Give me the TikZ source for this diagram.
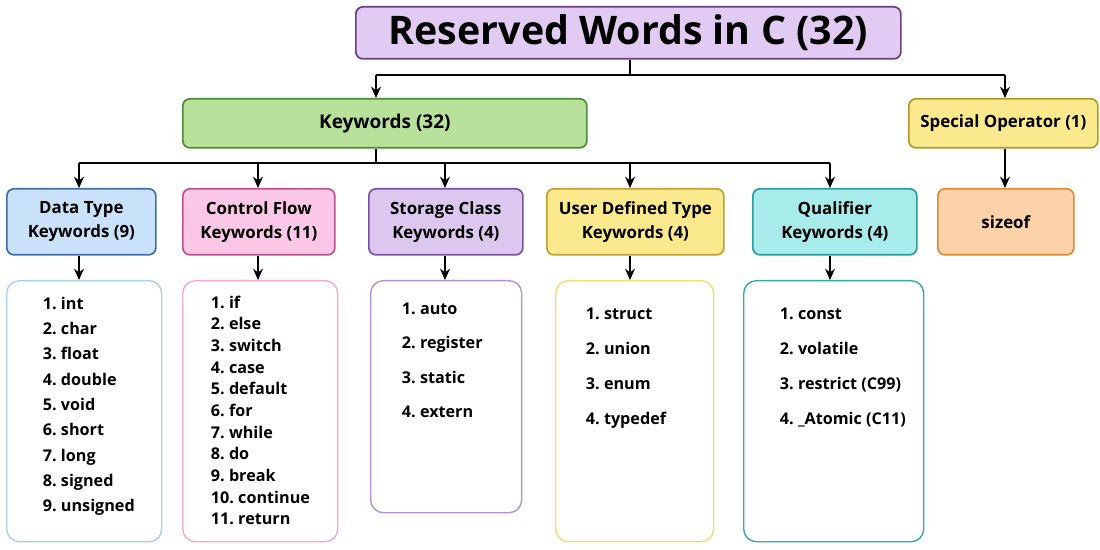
\documentclass[tikz,border=0pt]{standalone}
\usepackage{fontspec}
\setmainfont{Open Sans}
\usetikzlibrary{arrows.meta}
\newcommand{\pxu}{0.025cm}
\definecolor{ttlfill}{HTML}{E2CBF2}\definecolor{ttldraw}{HTML}{6A3D80}
\definecolor{kwfill}{HTML}{B8E29B}\definecolor{kwdraw}{HTML}{4E8A35}
\definecolor{spfill}{HTML}{FBE98E}\definecolor{spdraw}{HTML}{B09A30}
\definecolor{orfill}{HTML}{FCD3A8}\definecolor{ordraw}{HTML}{E08A35}
\definecolor{blfill}{HTML}{C9E2FA}\definecolor{bldraw}{HTML}{3E6FA8}
\definecolor{pkfill}{HTML}{FAC8E6}\definecolor{pkdraw}{HTML}{C0508F}
\definecolor{pufill}{HTML}{DCC8EE}\definecolor{pudraw}{HTML}{7B52A0}
\definecolor{yefill}{HTML}{FBE98E}\definecolor{yedraw}{HTML}{C0A030}
\definecolor{cyfill}{HTML}{A8EBEB}\definecolor{cydraw}{HTML}{2E9A9A}
\definecolor{blline}{HTML}{A9CFEE}\definecolor{pkline}{HTML}{F2A8CF}
\definecolor{puline}{HTML}{B392D3}\definecolor{yeline}{HTML}{F0DC70}
\definecolor{cyline}{HTML}{3AA6A6}
\begin{document}
\begin{tikzpicture}[x=0.025cm, y=-0.025cm,
  box/.style 2 args = {draw, line width=1.2pt, rounded corners=5pt, anchor=north west, inner sep=0pt, align=center,
    minimum width={#1*\pxu}, minimum height={#2*\pxu}, font=\bfseries\fontsize{12}{17}\selectfont},
  list/.style 2 args = {draw, line width=1pt, rounded corners=9pt, fill=white, anchor=north west, inner sep=0pt,
    minimum width={#1*\pxu}, minimum height={#2*\pxu}},
  items/.style = {anchor=north west, align=left, font=\bfseries\fontsize{11.5}{#1}\selectfont},
  arr/.style = {line width=1.4pt, -{Stealth[length=8pt,width=7pt]}},
  ln/.style = {line width=1.4pt}]
  \useasboundingbox (0,0) rectangle (1100,550);
  % top levels
  \node[box={545}{52}, fill=ttlfill, draw=ttldraw, font=\bfseries\fontsize{28}{32}\selectfont] (T) at (355,6) {Reserved Words in C (32)};
  \node[box={404}{49}, fill=kwfill, draw=kwdraw, font=\bfseries\fontsize{13.5}{17}\selectfont] (K) at (182,98) {Keywords (32)};
  \node[box={189}{49}, fill=spfill, draw=spdraw] (S) at (908,98) {Special Operator (1)};
  \node[box={136}{66}, fill=orfill, draw=ordraw] (Z) at (937,188) {sizeof};
  % categories
  \node[box={149}{66}, fill=blfill, draw=bldraw] (C1) at (6,188) {Data Type\\Keywords (9)};
  \node[box={152}{66}, fill=pkfill, draw=pkdraw] (C2) at (182,188) {Control Flow\\Keywords (11)};
  \node[box={154}{66}, fill=pufill, draw=pudraw] (C3) at (368,188) {Storage Class\\Keywords (4)};
  \node[box={177}{66}, fill=yefill, draw=yedraw] (C4) at (546,188) {User Defined Type\\Keywords (4)};
  \node[box={164}{66}, fill=cyfill, draw=cydraw] (C5) at (752,188) {Qualifier\\Keywords (4)};
  % lists
  \node[list={155}{261}, draw=blline] (L1) at (6,280) {};
  \node[list={155}{261}, draw=pkline] (L2) at (182,280) {};
  \node[list={151}{232}, draw=puline] (L3) at (370,280) {};
  \node[list={158}{261}, draw=yeline] (L4) at (555,280) {};
  \node[list={180}{261}, draw=cyline] (L5) at (743,280) {};
  \node[items=18] (I1) at (38,292) {1.\ int\\2.\ char\\3.\ float\\4.\ double\\5.\ void\\6.\ short\\7.\ long\\8.\ signed\\9.\ unsigned};
  \node[items=15.4] (I2) at (206,291) {1.\ if\\2.\ else\\3.\ switch\\4.\ case\\5.\ default\\6.\ for\\7.\ while\\8.\ do\\9.\ break\\10.\ continue\\11.\ return};
  \node[items=24.5] (I3) at (397,298) {1.\ auto\\2.\ register\\3.\ static\\4.\ extern};
  \node[items=25] (I4) at (581,303) {1.\ struct\\2.\ union\\3.\ enum\\4.\ typedef};
  \node[items=25] (I5) at (775,303) {1.\ const\\2.\ volatile\\3.\ restrict (C99)\\4.\ \_Atomic (C11)};
  % connectors
  \coordinate (t0) at (630,75); \coordinate (t1) at (376,75); \coordinate (t2) at (1005,75);
  \draw[ln] (T.south -| t0) -- (t0);
  \draw[ln] (t1) -- (t2);
  \draw[arr] (t1) -- (K.north -| t1);
  \draw[arr] (t2) -- (S.north -| t2);
  \draw[arr] (S.south -| t2) -- (Z.north -| t2);
  \coordinate (k0) at (376,163); \coordinate (ka) at (79,163); \coordinate (kb) at (830,163);
  \draw[ln] (K.south -| k0) -- (k0);
  \draw[ln] (ka) -- (kb);
  \foreach \i/\x in {1/79, 2/258, 3/445, 4/630, 5/830} {
    \coordinate (c\i) at (\x,163);
    \draw[arr] (c\i) -- (C\i.north -| c\i);
    \draw[arr] (C\i.south -| c\i) -- (L\i.north -| c\i);
  }
\end{tikzpicture}
\end{document}
